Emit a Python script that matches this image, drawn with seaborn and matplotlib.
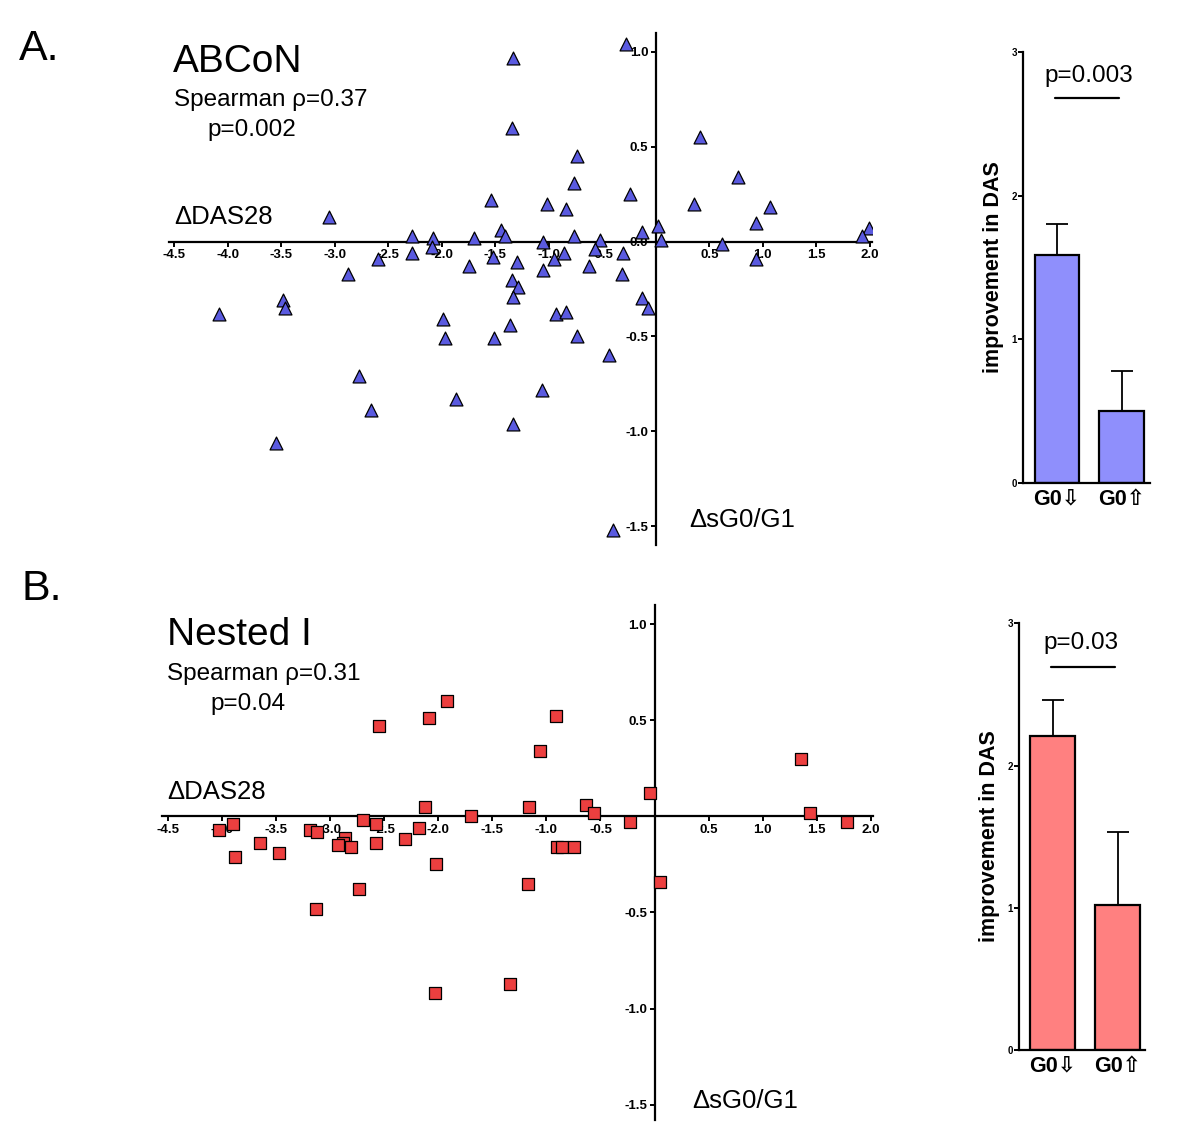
import matplotlib
matplotlib.use('Agg')
import matplotlib.pyplot as plt
import seaborn as sns
import pandas as pd
import numpy as np

# Datos
abcon_dsg0 = [-0.28, -1.33, -1.34, -0.74, -0.76, -0.24, -1.54, -1.02, -0.84, -3.05,
              0.02, -1.45, -0.13, -2.28, -2.08, -1.70, -1.41, -0.76, -1.05, -0.52,
              0.05, -2.09, -2.28, -2.60, -1.52, -0.95, -0.86, -0.57, -0.31, -1.30,
              -1.75, -1.05, -0.62, -2.88, -0.32, -1.34, -1.29, -1.33, -0.13, -3.48,
              -3.47, -4.08, -0.07, -0.93, -0.84, -1.99, -1.36, -1.97, -1.51, -0.74,
              -0.44, -2.77, -1.06, -1.87, -2.66, -1.33, -3.55, -0.40, 0.41, 0.77,
              0.36, 1.07, 0.94, 1.99, 1.93, 0.62, 0.94]
abcon_ddas = [1.04, 0.97, 0.60, 0.45, 0.31, 0.25, 0.22, 0.20, 0.17, 0.13,
              0.08, 0.06, 0.05, 0.03, 0.02, 0.02, 0.03, 0.03, 0.00, 0.01,
              0.01, -0.03, -0.06, -0.09, -0.08, -0.09, -0.06, -0.04, -0.06, -0.11,
              -0.13, -0.15, -0.13, -0.17, -0.17, -0.20, -0.24, -0.29, -0.30, -0.31,
              -0.35, -0.38, -0.35, -0.38, -0.37, -0.41, -0.44, -0.51, -0.51, -0.50,
              -0.60, -0.71, -0.78, -0.83, -0.89, -0.96, -1.06, -1.52, 0.55, 0.34,
              0.20, 0.18, 0.10, 0.07, 0.03, -0.01, -0.09]

nested_dsg0 = [-1.92, -2.08, -2.55, -0.91, -1.06, -0.04, -2.12, -1.16, -0.63, -0.56,
               -1.70, -2.69, -2.57, -3.90, -0.23, -2.18, -4.03, -3.18, -3.12, -2.86,
               -2.88, -3.65, -2.57, -2.31, -2.93, -2.81, -0.90, -0.86, -0.74, -3.47,
               -3.88, -2.02, -1.17, -2.73, -3.13, -1.34, -2.03, 0.05, 1.35, 1.44,
               1.78]
nested_ddas = [0.60, 0.51, 0.47, 0.52, 0.34, 0.12, 0.05, 0.05, 0.06, 0.02,
               0.00, -0.02, -0.04, -0.04, -0.03, -0.06, -0.07, -0.07, -0.08, -0.11,
               -0.14, -0.14, -0.14, -0.12, -0.15, -0.16, -0.16, -0.16, -0.16, -0.19,
               -0.21, -0.25, -0.35, -0.38, -0.48, -0.87, -0.92, -0.34, 0.30, 0.02,
               -0.03]

grupos = ['G0\u21e9', 'G0\u21e7']
abcon_media = [1.59, 0.50]
abcon_err = [0.21, 0.28]
nested_media = [2.21, 1.02]
nested_err = [0.25, 0.51]

W, H = 1200, 1143
FUENTE = ['Liberation Sans', 'DejaVu Sans']


def fx(px):
    return px / W


def fy(py):
    return 1 - py / H


def graficar_dispersion(fig, rect, x, y, marcador, color, ylim, yticks, textos):
    ax = fig.add_axes(rect)
    ax.patch.set_alpha(0)
    df = pd.DataFrame({'x': x, 'y': y})
    sns.scatterplot(data=df, x='x', y='y', marker=marcador, s=86, color=color,
                    edgecolor='black', linewidth=0.9, ax=ax, zorder=3)
    ax.set_xlim(-4.55, 2.02)
    ax.set_ylim(*ylim)
    ax.spines['left'].set_position(('data', 0))
    ax.spines['bottom'].set_position(('data', 0))
    ax.spines['top'].set_visible(False)
    ax.spines['right'].set_visible(False)
    for s in ['left', 'bottom']:
        ax.spines[s].set_linewidth(1.6)
    ax.set_xticks([-4.5, -4.0, -3.5, -3.0, -2.5, -2.0, -1.5, -1.0, -0.5, 0.5, 1.0, 1.5, 2.0])
    ax.set_yticks(yticks)
    ax.xaxis.set_major_formatter(matplotlib.ticker.FormatStrFormatter('%.1f'))
    ax.yaxis.set_major_formatter(matplotlib.ticker.FormatStrFormatter('%.1f'))
    ax.tick_params(axis='both', direction='out', length=3.5, width=1.4, labelsize=9.5, pad=2)
    for lab in ax.get_xticklabels() + ax.get_yticklabels():
        lab.set_fontweight('bold')
    ax.set_xlabel('')
    ax.set_ylabel('')
    for (px, py, txt, tam) in textos:
        fig.text(fx(px), fy(py), txt, fontsize=tam, va='baseline', ha='left', family=FUENTE)
    return ax


def graficar_barras(fig, rect, xlim, medias, errores, color, p_txt, p_x, y_linea, y_txt, x_linea):
    ax = fig.add_axes(rect)
    ax.patch.set_alpha(0)
    df = pd.DataFrame({'grupo': grupos, 'valor': medias})
    sns.barplot(data=df, x='grupo', y='valor', hue='grupo', palette=[color, color],
                width=0.69, edgecolor='black', linewidth=1.6, errorbar=None,
                saturation=1, legend=False, ax=ax)
    ax.errorbar([0, 1], medias, yerr=[[0, 0], errores], fmt='none', ecolor='black',
                elinewidth=1.3, capsize=8, capthick=1.3, zorder=1)
    ax.set_xlim(*xlim)
    ax.set_ylim(0, 3)
    ax.set_yticks([0, 1, 2, 3])
    ax.spines['top'].set_visible(False)
    ax.spines['right'].set_visible(False)
    for s in ['left', 'bottom']:
        ax.spines[s].set_linewidth(1.6)
    ax.tick_params(axis='y', direction='out', length=3.5, width=1.4, labelsize=7, pad=1)
    ax.tick_params(axis='x', length=0, labelsize=15.5, pad=4)
    for lab in ax.get_yticklabels():
        lab.set_fontweight('bold')
    for lab in ax.get_xticklabels():
        lab.set_fontweight('bold')
        lab.set_family(FUENTE)
    ax.set_xlabel('')
    ax.set_ylabel('improvement in DAS', fontsize=15.5, fontweight='bold')
    ax.yaxis.set_label_coords(-0.15, 0.5)
    ax.plot(x_linea, [y_linea, y_linea], color='black', linewidth=1.6)
    ax.text(p_x, y_txt, p_txt, fontsize=17.5, ha='center', va='baseline', family=FUENTE)
    return ax


sns.set_style('ticks')
plt.rcParams['font.family'] = FUENTE
plt.rcParams['axes.unicode_minus'] = False
for clave in ['text.color', 'axes.labelcolor', 'xtick.color', 'ytick.color', 'axes.edgecolor']:
    plt.rcParams[clave] = 'black'

fig = plt.figure(figsize=(12, 11.43), dpi=100)

fig.text(fx(19), fy(60), 'A.', fontsize=31, va='baseline', family=FUENTE)
fig.text(fx(21), fy(600), 'B.', fontsize=31, va='baseline', family=FUENTE)

graficar_dispersion(
    fig, [0.1408, 0.5232, 0.5858, 0.4479], abcon_dsg0, abcon_ddas, '^', '#5a5ae0',
    (-1.6, 1.1), [-1.5, -1.0, -0.5, 0.0, 0.5, 1.0],
    [(173, 72, 'ABCoN', 28), (174, 106, 'Spearman \u03c1=0.37', 17.5),
     (207, 136, 'p=0.002', 17.5), (174, 224, '\u0394DAS28', 18.5),
     (689, 527, '\u0394sG0/G1', 18.5)])

graficar_dispersion(
    fig, [0.1352, 0.0201, 0.5924, 0.4506], nested_dsg0, nested_ddas, 's', '#ec3f3f',
    (-1.58, 1.10), [-1.5, -1.0, -0.5, 0.5, 1.0],
    [(167, 645, 'Nested I', 28), (167, 680, 'Spearman \u03c1=0.31', 17.5),
     (210, 710, 'p=0.04', 17.5), (167, 799, '\u0394DAS28', 18.5),
     (692, 1108, '\u0394sG0/G1', 18.5)])

graficar_barras(fig, [0.8528, 0.5772, 0.1056, 0.3776], (-0.52, 1.44),
                abcon_media, abcon_err, '#8f8ffc', 'p=0.003', 0.5, 2.68, 2.79, [-0.03, 0.96])
graficar_barras(fig, [0.8494, 0.0814, 0.1048, 0.3733], (-0.514, 1.42),
                nested_media, nested_err, '#ff8080', 'p=0.03', 0.44, 2.69, 2.82, [-0.03, 0.96])

plt.savefig('out.png', dpi=100)
